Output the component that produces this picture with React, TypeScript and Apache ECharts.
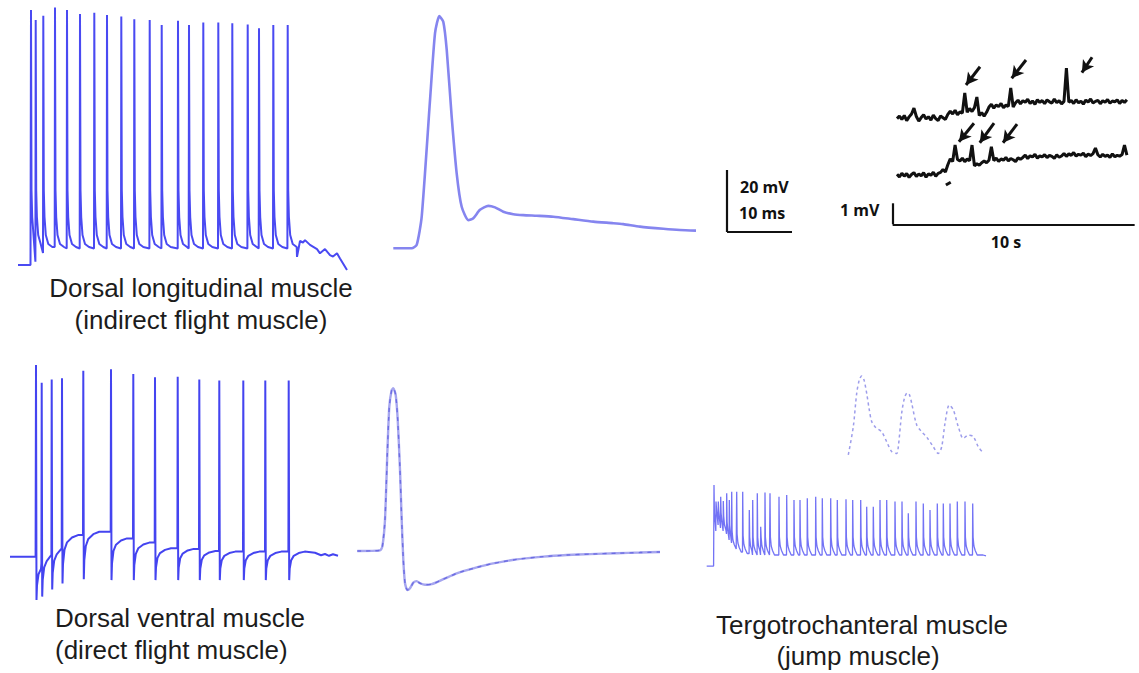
import React, { useEffect, useRef } from "react";
import * as echarts from "echarts";

// ---------- Panel A: dorsal longitudinal muscle spike train (time ms, mV above rest)
const dlmSpikeTimes = [16, 20.7, 28.3, 40, 52, 65, 79.3, 92, 106.3, 119.3, 134.7, 146.7, 163, 174, 188.3, 203.3, 217.3, 232.7, 244, 258.3, 272.7];
const dlmSpikePeaks = [85, 81.7, 83.1, 85.8, 85, 83.7, 84.1, 83.3, 82.8, 81.9, 81.7, 80, 81.4, 80, 80.8, 80.8, 80.6, 80.2, 78.9, 80, 80];
const dlmBase = [0, 1.1, 4, 6, 5.5, 5.5, 5.5, 5.5, 5.5, 5.5, 5.5, 5.5, 5.5, 5.5, 5.5, 5.5, 5.5, 5.5, 5.5, 5.5, 5.5];
const dlmAfter = [[0.5, 25], [1.2, 16], [2.5, 10], [5, 7], [9, 6]];
const dlmLead = [[3, 0], [15.5, 0]];
const dlmTail = [[282, 2.7], [285, 8], [288, 7.5], [290, 8.3], [295, 6.7], [302, 5.3], [305, 3.9], [310, 5.3], [315, 3.3], [318, 2.8], [322, 3.9], [325, 2.2], [332, -1.7]];

// ---------- Panel B: single DLM action potential (ms, mV)
const apDlmTime = [0, 2.83, 3.6, 4.37, 5.65, 6.42, 7.08, 7.69, 8.22, 8.98, 9.75, 10.52, 11.54, 12.31, 13.34, 14.62, 15.65, 16.92, 18.46, 20, 22.06, 24.62, 27.69, 30.77, 33.85, 35.38, 37.95, 41.54, 44.1, 46.57];
const apDlmV = [0, 0, 1.1, 10.2, 47.8, 69.4, 74.9, 73.1, 64.0, 42.5, 24.2, 13.4, 9.1, 9.7, 12.4, 13.7, 13.2, 11.8, 11.0, 10.7, 10.5, 10.2, 9.4, 8.6, 8.1, 7.8, 7.0, 6.3, 5.9, 5.7];
const apScaleBarMv = 20;
const apScaleBarMs = 10;
const apScaleBarOrigin = [51.34, 5.26];

// ---------- Panel C: dorsal ventral muscle spike train
const dvmSpikeTimes = [31, 36.7, 46.7, 57, 78.3, 106, 128.3, 150, 172.7, 194.3, 214.3, 238.3, 260.3, 283.7];
const dvmSpikePeaks = [63.9, 58, 59.1, 59.5, 62, 62.5, 60.9, 59.8, 60, 59.1, 58.7, 58.7, 58.7, 58.7];
const dvmTroughs = [-14.4, -13.3, -10.9, -8.9, -7.5, -7.8, -7.8, -7.8, -7.8, -7.8, -7.8, -7.8, -7.8, -7.8];
const dvmPlateaus = [-2.2, 0.6, 2.8, 7.2, 8.3, 6.1, 4.7, 2.8, 2.6, 1.9, 1.7, 1.7, 1.7, 1.7];
const dvmRecovery = [[1, 0.4], [2.5, 0.7], [5, 0.85], [10, 0.95], [16, 1]];
const dvmLead = [[5, 0], [30.6, 0]];
const dvmTail = [[300, 1.7], [310, 1.3], [316, 0.5], [320, 0.9], [324, 0.3], [328, 0.8], [333, 0.3]];

// ---------- Panel D: single DVM action potential
const apDvmTime = [0, 3.49, 3.85, 4.26, 4.62, 4.92, 5.29, 5.54, 5.91, 6.22, 6.57, 6.83, 7.08, 7.34, 7.69, 8.11, 8.62, 9.14, 9.65, 10.42, 11.45, 13.23, 15.29, 17.85, 20.92, 24.52, 28.62, 32.22, 35.8, 39.91, 43.49, 46.57];
const apDvmV = [0, 0.2, 1.4, 10, 31.5, 46.5, 51.9, 52.5, 50.3, 42.3, 26.1, 10, -2.9, -10.4, -12.6, -12.0, -10.2, -9.7, -10.4, -10.9, -10.7, -9.1, -7.2, -5.6, -4.0, -2.7, -1.8, -1.3, -1.0, -0.7, -0.5, -0.3];

// ---------- Panel E: tergotrochanteral muscle train
const ttmSpikeTimes = [14, 16, 18.3, 20.7, 23.3, 26.7, 29.3, 31.7, 36.7, 42.7, 49.3, 52.7, 57.3, 60.7, 65, 70, 79, 86.7, 94, 100, 107.3, 115.7, 122.3, 130.7, 137.3, 146, 152.7, 160.7, 166.7, 173.3, 180, 186.7, 195, 202, 208.3, 216, 223.3, 230, 237.3, 243.3, 250, 257.3, 265, 272.7];
const ttmSpikePeaks = [23.3, 17.8, 17.8, 19.4, 18, 20.6, 18.3, 21.1, 21.1, 21.1, 15, 18.3, 20.6, 9.4, 20.8, 20.6, 19.4, 20, 18.3, 18.3, 18.9, 19.4, 18.9, 18.9, 18.3, 18.6, 18.3, 18.3, 16.1, 16.1, 18.3, 18.3, 17.8, 17.8, 13.9, 17.8, 17.2, 15, 17.2, 17.2, 17.2, 17.8, 17.8, 17.2];
const ttmTroughs = [8, 10, 9, 8, 7, 5, 4, 2, 1, 0.5, 0, 0, 0, 0, 0, 0, 0, 0, 0, 0, 0, 0, 0, 0, 0, 0, 0, 0, 0, 0, 0, 0, 0, 0, 0, 0, 0, 0, 0, 0, 0, 0, 0, 0];
const ttmAfter = [[0.4, 6], [1.2, 3], [2.5, 1.5], [4.5, 0]];
const ttmLead = [[6.7, -3.7], [13.6, -3.7]];
const ttmTail = [[283, 0], [286, -0.3]];

// ---------- Panel F: inset of three TTM potentials
const ttmInsetTime = [3.3, 8.3, 11.7, 14.3, 16.7, 19, 21.7, 24.3, 26.7, 30, 31.7, 36.7, 41.7, 46.7, 51.7, 53.3, 56.7, 59.5, 62.3, 64.5, 66.7, 71.7, 76.7, 81.7, 88.3, 93.3, 96.7, 100, 104.3, 108.3, 113.3, 118.3, 123.3, 128.3, 133.3, 138.3];
const ttmInsetV = [1.7, 11.1, 22.2, 26.7, 28, 26.7, 22.2, 16.7, 12.8, 11.1, 10.6, 9.4, 6.1, 2.8, 2.2, 4.4, 15.6, 20.7, 22.4, 21.7, 18.9, 11.7, 9.4, 7.6, 4.4, 2.2, 4.4, 12.2, 18.3, 16.7, 11.1, 7.2, 8.3, 7.8, 4.4, 2.4];

// ---------- Panel G: extracellular recordings (sampled every 0.1 s, mV)
const rigSampleInterval = 0.1;
const rigUpperMv = [
  3.40, 3.52, 3.36, 3.55, 3.30, 3.48, 3.62, 3.90, 3.50, 3.28, 3.45, 3.58, 3.38, 3.49, 3.33, 3.56, 3.40, 3.31, 3.52, 3.44, 3.36,
  3.60, 3.75, 3.62, 3.80, 3.58, 3.72, 3.66,
  4.62,
  3.70, 3.88, 3.74, 3.92,
  4.43,
  3.55, 3.68, 3.52, 3.70,
  3.95, 4.08, 3.90, 4.05, 3.97, 4.12, 3.92, 4.04, 3.98,
  4.86,
  3.95, 4.15, 4.28, 4.10, 4.25, 4.18, 4.32, 4.12, 4.24, 4.08, 4.30, 4.17, 4.26, 4.11, 4.29, 4.20, 4.14, 4.33, 4.16, 4.25, 4.10, 4.22,
  5.81,
  4.18, 4.26, 4.12, 4.30, 4.15, 4.23, 4.09, 4.28, 4.19, 4.33, 4.14, 4.22, 4.27, 4.11, 4.25, 4.18, 4.31, 4.13, 4.24, 4.20, 4.29, 4.12, 4.26, 4.17, 4.30,
];
const rigLowerMv = [
  0.75, 0.62, 0.80, 0.66, 0.78, 0.60, 0.74, 0.83, 0.64, 0.76, 0.68, 0.82, 0.61, 0.77, 0.70, 0.85, 0.65, 0.79,
  0.84, 0.98, 0.86,
  1.20, 1.48, 1.36,
  2.14,
  1.45, 1.38, 1.52, 1.35, 1.47, 1.40,
  2.14,
  1.15, 1.25, 1.18, 1.30, 1.38, 1.30, 1.42,
  2.06,
  1.40, 1.52, 1.36, 1.48, 1.42, 1.55, 1.38, 1.50, 1.44, 1.35, 1.53, 1.46,
  1.55, 1.66, 1.50, 1.63, 1.57, 1.70, 1.52, 1.62, 1.58, 1.68, 1.54, 1.65, 1.60, 1.51, 1.67, 1.56,
  1.62, 1.74, 1.60, 1.72, 1.65, 1.78, 1.61, 1.70, 1.66, 1.75, 1.59, 1.71, 1.64, 1.73,
  2.00,
  1.68, 1.57, 1.70, 1.60, 1.66, 1.55, 1.72, 1.58, 1.65, 1.61, 1.69,
  2.14,
  1.66,
];
const rigMark = [[2.02, 0.24], [2.22, 0.37]];
// arrows: [tailT, tailV, headT, headV]
const rigArrows = [
  [3.43, 5.87, 2.85, 5.0],
  [5.33, 6.19, 4.74, 5.32],
  [8.06, 6.32, 7.64, 5.59],
  [3.18, 3.18, 2.56, 2.3],
  [4.01, 3.18, 3.42, 2.25],
  [4.96, 3.14, 4.38, 2.25],
];
const rigScaleBarMv = 1;
const rigScaleBarS = 10;
const rigScaleBarOrigin = [-0.18, -1.633];

// ---------- Labels
const labels = [
  { text: "Dorsal longitudinal muscle", x: 201, y: 288, align: "center" },
  { text: "(indirect flight muscle)", x: 201, y: 320, align: "center" },
  { text: "Dorsal ventral muscle", x: 55, y: 618, align: "left" },
  { text: "(direct flight muscle)", x: 55, y: 650, align: "left" },
  { text: "Tergotrochanteral muscle", x: 862, y: 625, align: "center" },
  { text: "(jump muscle)", x: 858, y: 656, align: "center" },
];
const scaleLabels = [
  { text: "20 mV", x: 740, y: 187, align: "left" },
  { text: "10 ms", x: 739, y: 213, align: "left" },
  { text: "1 mV", x: 840, y: 210, align: "left" },
  { text: "10 s", x: 1006, y: 242, align: "center" },
];

function dlmTrace() {
  const pts: number[][] = [...dlmLead];
  dlmSpikeTimes.forEach((t, i) => {
    const next = i + 1 < dlmSpikeTimes.length ? dlmSpikeTimes[i + 1] : Infinity;
    pts.push([t - 0.3, dlmBase[i]], [t, dlmSpikePeaks[i]]);
    dlmAfter.forEach(([dt, v]) => {
      if (t + dt < next - 0.3) pts.push([t + dt, v]);
    });
  });
  return pts.concat(dlmTail);
}

function dvmTrace() {
  const pts: number[][] = [...dvmLead];
  dvmSpikeTimes.forEach((t, i) => {
    const next = i + 1 < dvmSpikeTimes.length ? dvmSpikeTimes[i + 1] : Infinity;
    const before = i === 0 ? 0 : dvmPlateaus[i - 1];
    pts.push([t - 0.3, before], [t, dvmSpikePeaks[i]], [t + 0.5, dvmTroughs[i]]);
    dvmRecovery.forEach(([dt, f]) => {
      if (t + dt < next - 0.3) pts.push([t + dt, dvmTroughs[i] + f * (dvmPlateaus[i] - dvmTroughs[i])]);
    });
  });
  return pts.concat(dvmTail);
}

function ttmTrace() {
  const pts: number[][] = [...ttmLead];
  ttmSpikeTimes.forEach((t, i) => {
    const next = i + 1 < ttmSpikeTimes.length ? ttmSpikeTimes[i + 1] : Infinity;
    const before = i === 0 ? ttmLead[ttmLead.length - 1][1] : ttmTroughs[i - 1];
    pts.push([t - 0.2, before], [t, ttmSpikePeaks[i]]);
    ttmAfter.forEach(([dt, dv]) => {
      if (t + dt < next - 0.2) pts.push([t + dt, ttmTroughs[i] + dv]);
    });
  });
  return pts.concat(ttmTail);
}

const zip = (a: number[], b: number[]) => a.map((v, i) => [v, b[i]]);
const sampled = (vals: number[]) => vals.map((v, i) => [i * rigSampleInterval, v]);

export default function App() {
  const ref = useRef<HTMLDivElement>(null);
  useEffect(() => {
    if (!ref.current) return;
    const chart = echarts.init(ref.current, undefined, { renderer: "svg" });

    const grids = [
      { left: 15, top: 5, width: 340, height: 270 }, // A
      { left: 390, top: 10, width: 410, height: 245 }, // B
      { left: 5, top: 360, width: 340, height: 245 }, // C
      { left: 355, top: 383, width: 310, height: 212 }, // D
      { left: 700, top: 480, width: 290, height: 90 }, // E
      { left: 845, top: 370, width: 145, height: 92 }, // F
      { left: 890, top: 55, width: 247, height: 175 }, // G
    ];
    const xr = [
      [0, 340],
      [-0.508, 62.57],
      [0, 340],
      [-0.354, 47.34],
      [0, 290],
      [0, 145],
      [-0.2893, 9.917],
    ];
    const yr = [
      [-10 / 3, 260 / 3],
      [-2.16, 76.87],
      [-16.1, 65.567],
      [-14.19, 54.19],
      [-5, 25],
      [-0.667, 30],
      [-1.9048, 6.4286],
    ];

    const line = (idx: number, data: number[][], color: string, width: number, extra: any = {}) => ({
      type: "line",
      xAxisIndex: idx,
      yAxisIndex: idx,
      data,
      showSymbol: false,
      symbol: "none",
      clip: false,
      silent: true,
      lineStyle: { color, width, ...(extra.lineStyle || {}) },
      ...extra.rest,
    });

    const arrowData = rigArrows.map((a) => [{ coord: [a[0], a[1]] }, { coord: [a[2], a[3]] }]);
    const [ax, ay] = apScaleBarOrigin;
    const [gx, gy] = rigScaleBarOrigin;

    chart.setOption({
      animation: false,
      backgroundColor: "#ffffff",
      grid: grids.map((g) => ({ ...g, containLabel: false, show: false })),
      xAxis: xr.map((r, i) => ({ type: "value", gridIndex: i, min: r[0], max: r[1], show: false })),
      yAxis: yr.map((r, i) => ({ type: "value", gridIndex: i, min: r[0], max: r[1], show: false })),
      series: [
        line(0, dlmTrace(), "#4a4af2", 2),
        line(1, zip(apDlmTime, apDlmV), "#8585ef", 2.6, {
          rest: {
            smooth: 0.2,
            markLine: {
              silent: true,
              symbol: ["none", "none"],
              label: { show: false },
              lineStyle: { color: "#111", width: 2.2, type: "solid" },
              data: [
                [{ coord: [ax, ay] }, { coord: [ax, ay + apScaleBarMv] }],
                [{ coord: [ax, ay] }, { coord: [ax + apScaleBarMs, ay] }],
              ],
            },
          },
        }),
        line(2, dvmTrace(), "#4444f0", 2),
        line(3, zip(apDvmTime, apDvmV), "#a6a6ef", 2.4, { rest: { smooth: 0.2 } }),
        line(3, zip(apDvmTime, apDvmV), "#6d6de3", 1.4, { lineStyle: { type: [4, 5] }, rest: { smooth: 0.2 } }),
        line(4, ttmTrace(), "#5a5af3", 1.3, { lineStyle: { opacity: 0.85 } }),
        line(5, zip(ttmInsetTime, ttmInsetV), "#9d9deb", 1.5, { lineStyle: { type: [3, 3] }, rest: { smooth: 0.3 } }),
        line(6, sampled(rigUpperMv), "#111111", 3, {
          rest: {
            markLine: {
              silent: true,
              symbol: ["none", "arrow"],
              symbolSize: [10, 12],
              label: { show: false },
              lineStyle: { color: "#111", width: 3, type: "solid" },
              itemStyle: { color: "#111" },
              data: arrowData,
            },
          },
        }),
        line(6, sampled(rigLowerMv), "#111111", 3, {
          rest: {
            markLine: {
              silent: true,
              symbol: ["none", "none"],
              label: { show: false },
              lineStyle: { color: "#111", width: 2.2, type: "solid" },
              data: [
                [{ coord: [gx, gy] }, { coord: [gx, gy + rigScaleBarMv] }],
                [{ coord: [gx, gy] }, { coord: [gx + rigScaleBarS, gy] }],
              ],
            },
          },
        }),
        line(6, rigMark, "#111111", 3),
      ],
      graphic: [
        ...labels.map((l) => ({
          type: "text",
          x: l.x,
          y: l.y,
          silent: true,
          style: {
            text: l.text,
            fill: "#1c1c1c",
            font: '26px "Liberation Sans", Arial, sans-serif',
            align: l.align,
            verticalAlign: "middle",
          },
        })),
        ...scaleLabels.map((l) => ({
          type: "text",
          x: l.x,
          y: l.y,
          silent: true,
          style: {
            text: l.text,
            fill: "#111",
            font: 'bold 16px "Open Sans", "Liberation Sans", sans-serif',
            align: l.align,
            verticalAlign: "middle",
          },
        })),
      ],
    });
    return () => chart.dispose();
  }, []);

  return (
    <div
      ref={ref}
      style={{ position: "fixed", left: 0, top: 0, width: 1139, height: 673, background: "#fff" }}
    />
  );
}
